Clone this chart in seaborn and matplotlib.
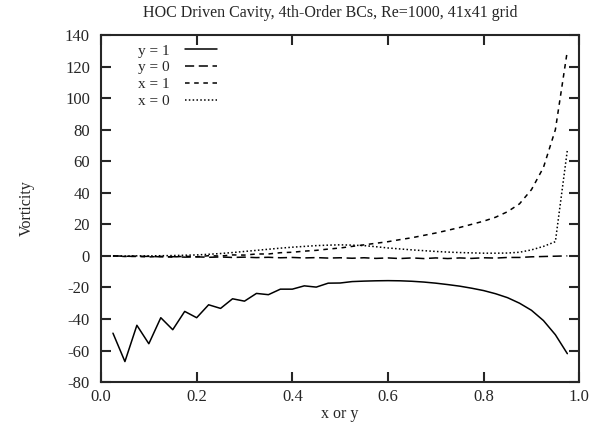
import numpy as np
import pandas as pd
import matplotlib
matplotlib.use("Agg")
import matplotlib.pyplot as plt
import seaborn as sns

# grid positions (interior points of 41x41 grid)
pos = [0.025, 0.05, 0.075, 0.1, 0.125, 0.15, 0.175, 0.2, 0.225, 0.25,
       0.275, 0.3, 0.325, 0.35, 0.375, 0.4, 0.425, 0.45, 0.475, 0.5,
       0.525, 0.55, 0.575, 0.6, 0.625, 0.65, 0.675, 0.7, 0.725, 0.75,
       0.775, 0.8, 0.825, 0.85, 0.875, 0.9, 0.925, 0.95, 0.975]

y1 = [-49.0, -67.0, -44.0, -55.7, -39.2, -46.8, -35.2, -39.2, -31.0, -33.3,
      -27.2, -28.7, -23.8, -24.6, -21.1, -21.1, -19.0, -19.8, -17.3, -17.2,
      -16.3, -16.0, -15.8, -15.7, -15.8, -16.1, -16.6, -17.3, -18.2, -19.2,
      -20.5, -22.0, -24.0, -26.5, -30.0, -34.5, -41.0, -50.0, -62.0]

y0 = [0.0, -0.2, -0.4, -0.3, -0.6, -0.5, -0.8, -0.6, -0.9, -0.7,
      -1.0, -0.8, -1.1, -0.9, -1.2, -1.0, -1.3, -1.1, -1.4, -1.2,
      -1.5, -1.2, -1.6, -1.3, -1.7, -1.3, -1.7, -1.3, -1.7, -1.3,
      -1.6, -1.2, -1.4, -1.0, -1.0, -0.6, -0.4, -0.2, 0.0]

x1 = [0.0, -0.4, -0.2, -0.7, -0.3, -0.8, -0.2, -0.6, 0.1, -0.1,
      0.6, 0.5, 1.2, 1.2, 2.0, 2.3, 3.0, 3.5, 4.3, 5.0,
      6.0, 7.0, 8.0, 9.0, 10.3, 11.5, 13.0, 14.5, 16.2, 18.0,
      20.0, 22.0, 24.5, 28.0, 33.0, 42.0, 56.0, 80.0, 130.0]

x0 = [0.0, -0.1, 0.0, 0.0, 0.1, 0.2, 0.4, 0.6, 1.0, 1.5,
      2.1, 2.8, 3.5, 4.2, 4.9, 5.5, 6.0, 6.5, 6.8, 7.0,
      6.8, 6.5, 5.8, 5.0, 4.4, 3.8, 3.3, 2.8, 2.4, 2.1,
      1.9, 1.7, 1.7, 1.8, 2.3, 3.8, 6.0, 9.0, 67.0]

series = {"y = 1": y1, "y = 0": y0, "x = 1": x1, "x = 0": x0}
df = pd.concat([pd.DataFrame({"pos": pos, "vort": v, "line": k}) for k, v in series.items()],
               ignore_index=True)

sns.set_style("ticks")
plt.rcParams["font.family"] = ["Liberation Serif", "DejaVu Serif"]
plt.rcParams["axes.unicode_minus"] = False

fig = plt.figure(figsize=(5.91, 4.25), dpi=100)
ax = fig.add_axes([0.1709, 0.101, 0.8093, 0.8166])

dashes = {"y = 1": "", "y = 0": (6, 3), "x = 1": (3, 3), "x = 0": (1, 1.5)}
sns.lineplot(data=df, x="pos", y="vort", hue="line", style="line",
             palette=["black"] * 4, dashes=dashes, linewidth=1.1, ax=ax,
             legend=True)

ax.set_xlim(0, 1)
ax.set_ylim(-80, 140)
ax.set_xticks(np.arange(0, 1.01, 0.2))
ax.set_xticklabels(["0.0", "0.2", "0.4", "0.6", "0.8", "1.0"])
ax.set_yticks(np.arange(-80, 141, 20))
ax.tick_params(direction="in", length=7, width=1.5, top=True, right=True,
               labelsize=12, pad=5)
ax.tick_params(axis="y", pad=8)
for s in ax.spines.values():
    s.set_linewidth(1.5)
ax.set_xlabel("x or y", fontsize=11.5, labelpad=1)
ax.set_ylabel("Vorticity", fontsize=11.5, labelpad=22)
ax.set_title("HOC Driven Cavity, 4th-Order BCs, Re=1000, 41x41 grid",
             fontsize=11.5, pad=13, x=0.48)

handles, labels = ax.get_legend_handles_labels()
ax.legend(handles, labels, loc="upper left", bbox_to_anchor=(0.055, 1.005),
          frameon=False, markerfirst=False, handlelength=2.1, fontsize=11,
          labelspacing=0.2, handletextpad=1.0, borderaxespad=0.3)

fig.savefig("out.png", dpi=100)
